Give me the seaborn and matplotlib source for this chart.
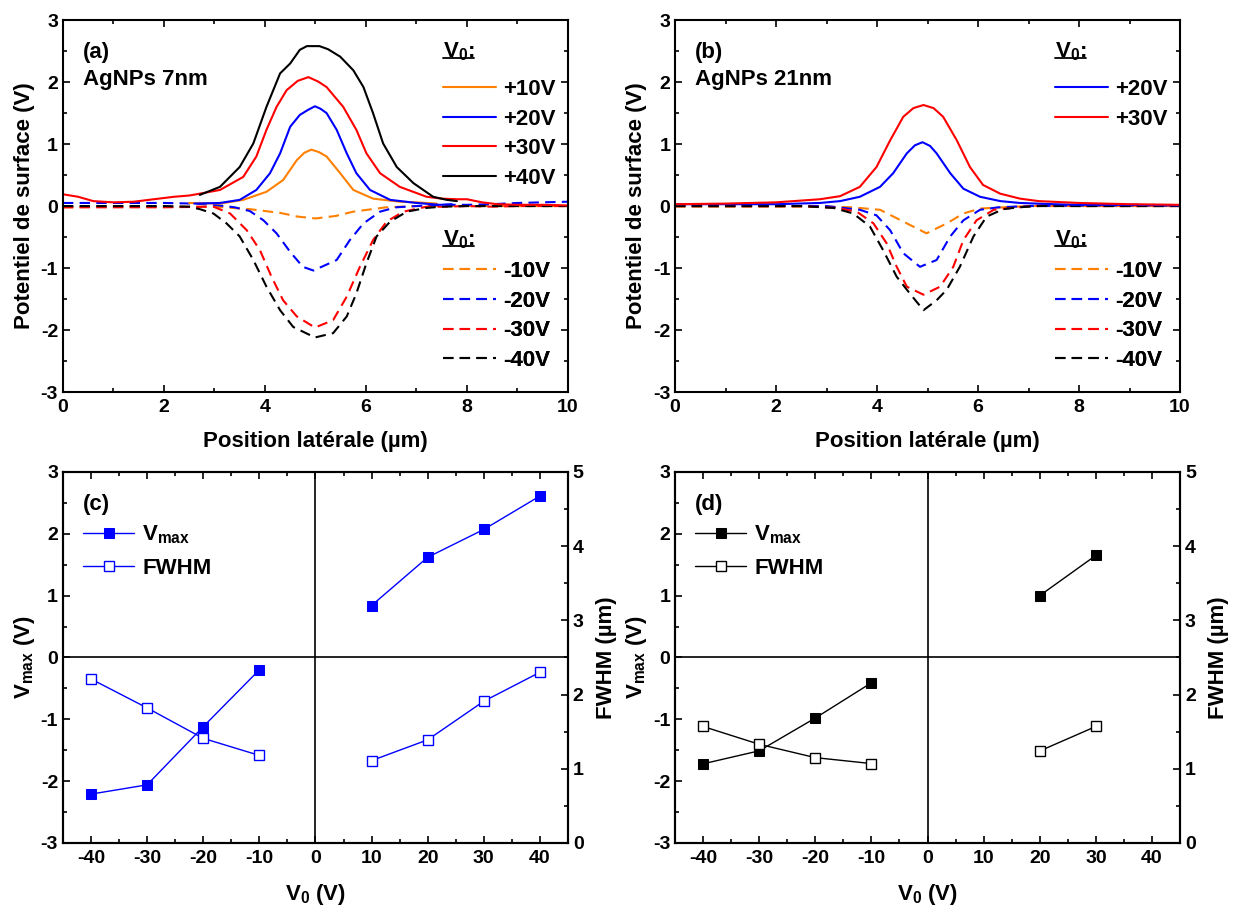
import numpy as np
import pandas as pd
import seaborn as sns
import matplotlib
matplotlib.use("Agg")
import matplotlib.pyplot as plt
from matplotlib.lines import Line2D
from matplotlib.ticker import MultipleLocator

# ---------------- data: panel (a) AgNPs 7nm ----------------
A_P10_X = [2.5, 3.11, 3.57, 4.03, 4.36, 4.63, 4.78, 4.92, 5.07, 5.22, 5.49, 5.75, 6.14, 6.67, 7.0, 7.4]
A_P10_Y = [0.05, 0.04, 0.10, 0.23, 0.42, 0.74, 0.86, 0.91, 0.87, 0.80, 0.53, 0.26, 0.12, 0.07, 0.06, 0.04]
A_P20_X = [2.6, 3.11, 3.50, 3.83, 4.10, 4.30, 4.50, 4.69, 4.85, 4.99, 5.10, 5.22, 5.42, 5.62, 5.81, 6.08, 6.48, 7.0,
           7.46, 7.7]
A_P20_Y = [0.04, 0.05, 0.10, 0.26, 0.53, 0.85, 1.28, 1.47, 1.55, 1.61, 1.57, 1.50, 1.23, 0.85, 0.53, 0.26, 0.10, 0.05,
           0.02, 0.03]
A_P30_X = [0, 0.3, 0.6, 1.0, 1.4, 1.8, 2.2, 2.5, 2.71, 3.11, 3.57, 3.83, 4.03, 4.23, 4.43, 4.65, 4.86, 5.05, 5.22, 5.55,
           5.81, 6.01, 6.28, 6.67, 7.20, 7.5, 7.8, 8.0, 8.3, 8.6, 9.0, 9.5, 10.0]
A_P30_Y = [0.19, 0.15, 0.08, 0.06, 0.07, 0.11, 0.15, 0.17, 0.20, 0.26, 0.47, 0.80, 1.23, 1.60, 1.87, 2.02, 2.08, 2.01,
           1.92, 1.60, 1.23, 0.85, 0.53, 0.31, 0.15, 0.12, 0.11, 0.11, 0.06, 0.03, 0.02, 0.02, 0.01]
A_P40_X = [2.71, 3.11, 3.50, 3.77, 4.03, 4.30, 4.50, 4.69, 4.83, 5.08, 5.25, 5.49, 5.75, 5.95, 6.14, 6.34, 6.61, 6.94,
           7.33, 7.6, 7.8]
A_P40_Y = [0.18, 0.31, 0.63, 1.01, 1.60, 2.14, 2.30, 2.52, 2.58, 2.58, 2.53, 2.41, 2.19, 1.92, 1.50, 1.01, 0.63, 0.37,
           0.15, 0.10, 0.08]
A_M10_X = [0, 1, 2, 3, 3.7, 4.3, 4.65, 5.0, 5.4, 5.75, 6.4, 7.0, 8.0, 9.0, 10.0]
A_M10_Y = [-0.02, -0.01, -0.01, -0.01, -0.05, -0.11, -0.17, -0.20, -0.16, -0.09, -0.02, 0.0, 0.0, 0.0, 0.0]
A_M20_X = [0, 1, 2, 2.6, 3.0, 3.4, 3.70, 3.97, 4.23, 4.50, 4.75, 4.96, 5.42, 5.68, 5.95, 6.28, 6.6, 7.0, 7.5, 8.0, 8.5,
           9.0, 9.5, 10.0]
A_M20_Y = [0.05, 0.05, 0.05, 0.04, 0.02, -0.02, -0.08, -0.23, -0.44, -0.74, -0.98, -1.04, -0.87, -0.55, -0.28, -0.09,
           -0.02, 0.0, 0.02, 0.02, 0.03, 0.05, 0.06, 0.07]
A_M30_X = [0, 1, 2, 2.98, 3.31, 3.64, 3.90, 4.13, 4.36, 4.63, 4.99, 5.35, 5.62, 5.88, 6.14, 6.41, 6.74, 7.2, 7.5, 8.0,
           8.5, 9.0, 10.0]
A_M30_Y = [-0.02, -0.02, -0.02, -0.01, -0.12, -0.39, -0.71, -1.14, -1.52, -1.78, -1.96, -1.84, -1.46, -0.98, -0.55,
           -0.25, -0.09, -0.01, -0.01, 0.0, -0.01, 0.0, 0.0]
A_M40_X = [0, 1, 2, 2.5, 2.71, 2.98, 3.24, 3.50, 3.77, 4.03, 4.30, 4.56, 4.99, 5.35, 5.62, 5.81, 6.01, 6.21, 6.48, 6.81,
           7.2, 7.5, 8.0, 9.0, 10.0]
A_M40_Y = [0.0, 0.0, 0.0, -0.01, -0.05, -0.12, -0.28, -0.49, -0.87, -1.30, -1.68, -1.95, -2.12, -2.05, -1.78, -1.41,
           -0.92, -0.49, -0.25, -0.09, -0.03, -0.01, 0.0, 0.0, 0.0]

# ---------------- data: panel (b) AgNPs 21nm ----------------
B_P20_X = [0, 1, 2, 2.87, 3.27, 3.66, 4.06, 4.32, 4.59, 4.75, 4.90, 5.05, 5.18, 5.45, 5.71, 6.04, 6.44, 6.83, 7.5, 8.0,
           9.0, 10.0]
B_P20_Y = [0.03, 0.03, 0.03, 0.05, 0.08, 0.15, 0.31, 0.53, 0.85, 0.98, 1.03, 0.97, 0.85, 0.53, 0.28, 0.15, 0.08, 0.05,
           0.03, 0.02, 0.02, 0.01]
B_P30_X = [0, 1, 2, 2.87, 3.27, 3.66, 3.99, 4.26, 4.52, 4.72, 4.92, 5.12, 5.31, 5.58, 5.84, 6.10, 6.44, 6.83, 7.2, 8.0,
           9.0, 10.0]
B_P30_Y = [0.03, 0.04, 0.06, 0.11, 0.16, 0.31, 0.63, 1.06, 1.44, 1.58, 1.63, 1.58, 1.44, 1.06, 0.63, 0.34, 0.20, 0.12,
           0.08, 0.05, 0.03, 0.02]
B_M10_X = [0, 1, 2, 3, 3.5, 4.06, 4.52, 4.98, 5.38, 5.71, 6.04, 6.5, 7.0, 8.0, 9.0, 10.0]
B_M10_Y = [-0.01, -0.01, -0.01, -0.01, -0.02, -0.06, -0.25, -0.44, -0.28, -0.12, -0.04, -0.02, 0.0, 0.0, 0.0, 0.0]
B_M20_X = [0, 1, 2, 3, 3.66, 3.99, 4.26, 4.52, 4.85, 5.18, 5.45, 5.71, 6.04, 6.4, 7.0, 8.0, 9.0, 10.0]
B_M20_Y = [0.0, 0.0, 0.0, 0.0, -0.06, -0.15, -0.39, -0.76, -0.98, -0.87, -0.49, -0.23, -0.06, -0.02, 0.0, 0.01, 0.01,
           0.01]
B_M30_X = [0, 1, 2, 2.5, 3.2, 3.60, 3.93, 4.19, 4.39, 4.59, 4.92, 5.25, 5.51, 5.71, 5.97, 6.31, 6.8, 7.2, 8.0, 9.0, 10.0]
B_M30_Y = [0.0, 0.0, 0.0, 0.0, -0.03, -0.09, -0.28, -0.60, -0.98, -1.30, -1.43, -1.30, -0.98, -0.55, -0.23, -0.06,
           -0.02, 0.01, 0.0, 0.0, 0.0]
B_M40_X = [0, 1, 2, 2.5, 3.14, 3.53, 3.86, 4.12, 4.39, 4.65, 4.92, 5.18, 5.38, 5.64, 5.91, 6.17, 6.5, 6.8, 7.2, 8.0, 9.0,
           10.0]
B_M40_Y = [0.0, 0.0, 0.0, 0.0, -0.03, -0.12, -0.33, -0.71, -1.14, -1.41, -1.68, -1.52, -1.35, -0.98, -0.49, -0.17,
           -0.05, -0.02, 0.0, 0.0, 0.0, 0.0]

# ---------------- data: panels (c), (d) ----------------
C_V0 = [-40, -30, -20, -10, 10, 20, 30, 40]
C_VMAX = [-2.21, -2.06, -1.12, -0.20, 0.84, 1.62, 2.07, 2.61]
C_FWHM = [2.21, 1.82, 1.41, 1.18, 1.11, 1.39, 1.91, 2.30]
D_V0 = [-40, -30, -20, -10, 20, 30]
D_VMAX = [-1.72, -1.51, -0.98, -0.41, 1.00, 1.65]
D_FWHM = [1.57, 1.33, 1.15, 1.07, 1.24, 1.57]

POS_LABELS = ["+10V", "+20V", "+30V", "+40V"]
NEG_LABELS = ["-10V", "-20V", "-30V", "-40V"]
ORANGE, BLUE, RED, BLACK = "#FF8000", "#0000FF", "#FF0000", "#000000"

sns.set_theme(style="ticks")
plt.rcParams.update({
    "font.family": ["Liberation Sans", "DejaVu Sans"],
    "font.weight": "bold",
    "axes.labelweight": "bold",
    "mathtext.fontset": "custom",
    "mathtext.rm": "Liberation Sans:bold",
    "mathtext.bf": "Liberation Sans:bold",
    "mathtext.it": "Liberation Sans:bold",
    "mathtext.default": "rm",
    "axes.unicode_minus": False,
    "axes.linewidth": 1.5,
    "axes.edgecolor": "black",
    "axes.labelcolor": "black",
    "text.color": "black",
    "xtick.color": "black",
    "ytick.color": "black",
    "xtick.labelsize": 14,
    "ytick.labelsize": 14,
    "axes.labelsize": 16,
})

fig = plt.figure(figsize=(12.39, 9.13), dpi=100)
axA = fig.add_axes([0.0508, 0.5706, 0.4076, 0.4074])
axB = fig.add_axes([0.5448, 0.5706, 0.4076, 0.4074])
axC = fig.add_axes([0.0508, 0.0767, 0.4076, 0.4064])
axD = fig.add_axes([0.5448, 0.0767, 0.4076, 0.4064])

DASH = (5, 3)


def curve(ax, x, y, color, dashed):
    sns.lineplot(x=x, y=y, ax=ax, color=color, lw=1.5, estimator=None, sort=False, legend=False)
    ln = ax.lines[-1]
    ln.set_solid_joinstyle("round")
    if dashed:
        ln.set_dashes(DASH)
    return ln


def ticks(ax, xmaj, xmin, ymaj, ymin, right=True):
    ax.xaxis.set_major_locator(MultipleLocator(xmaj))
    ax.xaxis.set_minor_locator(MultipleLocator(xmin))
    ax.yaxis.set_major_locator(MultipleLocator(ymaj))
    ax.yaxis.set_minor_locator(MultipleLocator(ymin))
    ax.tick_params(which="both", direction="in", top=True, right=right, width=1.2)
    ax.tick_params(which="major", length=5)
    ax.tick_params(which="minor", length=3)
    ax.tick_params(axis="x", pad=5)


underlines = []


def v0_legends(ax, pos_lines, pos_labels, neg_lines, neg_labels):
    for hdr_y, lines, labels, top in ((0.915, pos_lines, pos_labels, 0.842), (0.41, neg_lines, neg_labels, 0.352)):
        t = ax.text(0.752, hdr_y, "V$_0$:", transform=ax.transAxes, fontsize=16, va="center", ha="left")
        underlines.append((ax, t))
        leg = ax.legend(lines, labels, loc="upper left", bbox_to_anchor=(0.752, top), frameon=False,
                        borderpad=0, borderaxespad=0, handlelength=2.4, handletextpad=0.3, labelspacing=0.39,
                        prop={"size": 16, "weight": "bold"})
        ax.add_artist(leg)


# ---- panel (a)
negA = [curve(axA, A_M10_X, A_M10_Y, ORANGE, True), curve(axA, A_M20_X, A_M20_Y, BLUE, True),
        curve(axA, A_M30_X, A_M30_Y, RED, True), curve(axA, A_M40_X, A_M40_Y, BLACK, True)]
posA = [curve(axA, A_P10_X, A_P10_Y, ORANGE, False), curve(axA, A_P20_X, A_P20_Y, BLUE, False),
        curve(axA, A_P30_X, A_P30_Y, RED, False), curve(axA, A_P40_X, A_P40_Y, BLACK, False)]
# ---- panel (b)
negB = [curve(axB, B_M10_X, B_M10_Y, ORANGE, True), curve(axB, B_M20_X, B_M20_Y, BLUE, True),
        curve(axB, B_M30_X, B_M30_Y, RED, True), curve(axB, B_M40_X, B_M40_Y, BLACK, True)]
posB = [curve(axB, B_P20_X, B_P20_Y, BLUE, False), curve(axB, B_P30_X, B_P30_Y, RED, False)]

for ax, tag, name in ((axA, "(a)", "AgNPs 7nm"), (axB, "(b)", "AgNPs 21nm")):
    ax.set_xlim(0, 10)
    ax.set_ylim(-3, 3)
    ticks(ax, 2, 1, 1, 0.5)
    ax.set_xlabel("Position latérale (µm)", labelpad=11)
    ax.set_ylabel("Potentiel de surface (V)", labelpad=4)
    ax.text(0.04, 0.914, tag, transform=ax.transAxes, fontsize=16, va="center")
    ax.text(0.04, 0.839, name, transform=ax.transAxes, fontsize=16, va="center")

v0_legends(axA, posA, POS_LABELS, negA, NEG_LABELS)
v0_legends(axB, posB, POS_LABELS[1:3], negB, NEG_LABELS)


# ---- panels (c), (d)
def summary(ax, v0, vmax, fwhm, color, tag):
    df = pd.DataFrame({"V0": v0, "Vmax": vmax, "FWHM": fwhm})
    df["branch"] = np.where(df["V0"] < 0, "neg", "pos")
    ax.axhline(0, color="black", lw=1.2, zorder=1)
    ax.axvline(0, color="black", lw=1.2, zorder=1)
    sns.lineplot(data=df, x="V0", y="Vmax", units="branch", estimator=None, ax=ax, color=color, lw=1.0,
                 marker="s", markersize=7.5, markerfacecolor=color, markeredgecolor=color, legend=False)
    h1 = ax.lines[-1]
    ax2 = ax.twinx()
    sns.lineplot(data=df, x="V0", y="FWHM", units="branch", estimator=None, ax=ax2, color=color, lw=1.0,
                 marker="s", markersize=7.5, markerfacecolor="white", markeredgecolor=color, markeredgewidth=1.0,
                 legend=False)
    h2 = ax2.lines[-1]
    ax.set_xlim(-45, 45)
    ax.set_ylim(-3, 3)
    ax2.set_ylim(0, 5)
    ticks(ax, 10, 5, 1, 0.5, right=False)
    ax2.yaxis.set_major_locator(MultipleLocator(1))
    ax2.yaxis.set_minor_locator(MultipleLocator(0.5))
    ax2.tick_params(which="both", direction="in", width=1.2)
    ax2.tick_params(which="major", length=5)
    ax2.tick_params(which="minor", length=3)
    ax.set_xlabel("V$_0$ (V)", labelpad=11)
    ax.set_ylabel("V$_{max}$ (V)", labelpad=3)
    ax2.set_ylabel("FWHM (µm)", labelpad=9)
    for sp in ax2.spines.values():
        sp.set_linewidth(1.5)
    ax.text(0.04, 0.911, tag, transform=ax.transAxes, fontsize=16, va="center")
    ax.legend([h1, h2], ["V$_{max}$", "FWHM"], loc="upper left", bbox_to_anchor=(0.04, 0.86), frameon=False,
              borderpad=0, borderaxespad=0, handlelength=2.3, handletextpad=0.35, labelspacing=0.5,
              prop={"size": 16, "weight": "bold"})


summary(axC, C_V0, C_VMAX, C_FWHM, BLUE, "(c)")
summary(axD, D_V0, D_VMAX, D_FWHM, BLACK, "(d)")

# underline the "V0:" legend headers
fig.canvas.draw()
renderer = fig.canvas.get_renderer()
for ax, t in underlines:
    bb = t.get_window_extent(renderer)
    inv = ax.transAxes.inverted()
    (x0, y0), (x1, y1) = inv.transform([[bb.x0, bb.y0], [bb.x1, bb.y1]])
    yl = y0 + 0.22 * (y1 - y0)
    ax.add_line(Line2D([x0, x1], [yl, yl], transform=ax.transAxes, color="black", lw=1.3, clip_on=False))

fig.savefig("out.png", dpi=100)
